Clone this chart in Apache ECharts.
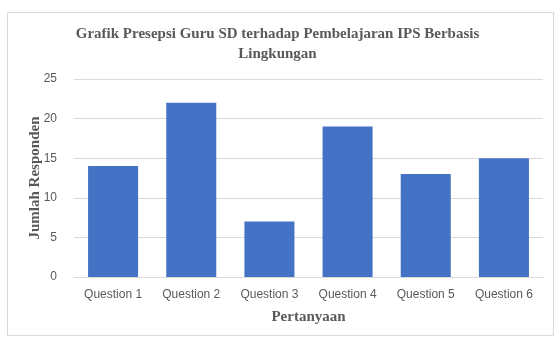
<!DOCTYPE html>
<html>
<head>
<meta charset="utf-8">
<script src="https://cdn.jsdelivr.net/npm/echarts@6/dist/echarts.min.js"></script>
<style>
html,body{margin:0;padding:0;background:#fff;}
#c{width:555px;height:338px;}
</style>
</head>
<body>
<div id="c"></div>
<script>
var categories = ['Question 1','Question 2','Question 3','Question 4','Question 5','Question 6'];
var values = [14, 22, 7, 19, 13, 15];
var yTicks = [0, 5, 10, 15, 20, 25];
var titleText = 'Grafik Presepsi Guru SD terhadap Pembelajaran IPS Berbasis\nLingkungan';

var chart = echarts.init(document.getElementById('c'), null, {renderer:'canvas'});
chart.setOption({
  animation: false,
  backgroundColor: '#fff',
  graphic: [{
    type: 'rect',
    shape: {x: 7.5, y: 12.5, width: 546, height: 323},
    style: {fill: 'none', stroke: '#d9d9d9', lineWidth: 1},
    silent: true
  }],
  title: {
    text: titleText,
    left: 'center',
    top: 24,
    padding: 0,
    textStyle: {
      fontFamily: 'Liberation Serif',
      fontWeight: 'bold',
      fontSize: 15,
      color: '#595959',
      lineHeight: 20
    }
  },
  grid: {left: 74, right: 12, top: 79, bottom: 61},
  xAxis: {
    type: 'category',
    data: categories,
    name: 'Pertanyaan',
    nameLocation: 'middle',
    nameGap: 33,
    nameTextStyle: {fontFamily: 'Liberation Serif', fontWeight: 'bold', fontSize: 15, color: '#595959'},
    axisLine: {lineStyle: {color: '#d9d9d9'}},
    axisTick: {show: false},
    axisLabel: {fontFamily: 'Liberation Sans', fontSize: 12, color: '#595959', margin: 12}
  },
  yAxis: {
    type: 'value',
    min: 0, max: 25, interval: 5,
    name: 'Jumlah Responden',
    nameLocation: 'middle',
    nameGap: 31,
    nameMoveOverlap: false,
    nameTextStyle: {fontFamily: 'Liberation Serif', fontWeight: 'bold', fontSize: 15, color: '#595959'},
    axisLine: {show: false},
    axisTick: {show: false},
    splitLine: {lineStyle: {color: '#d9d9d9'}},
    axisLabel: {fontFamily: 'Liberation Sans', fontSize: 12, color: '#595959', margin: 17,
      formatter: function(v){ return yTicks.indexOf(v) >= 0 ? String(v) : ''; }}
  },
  series: [{
    type: 'bar',
    data: values,
    barWidth: '64%',
    itemStyle: {color: '#4472c4'}
  }]
});
</script>
</body>
</html>
